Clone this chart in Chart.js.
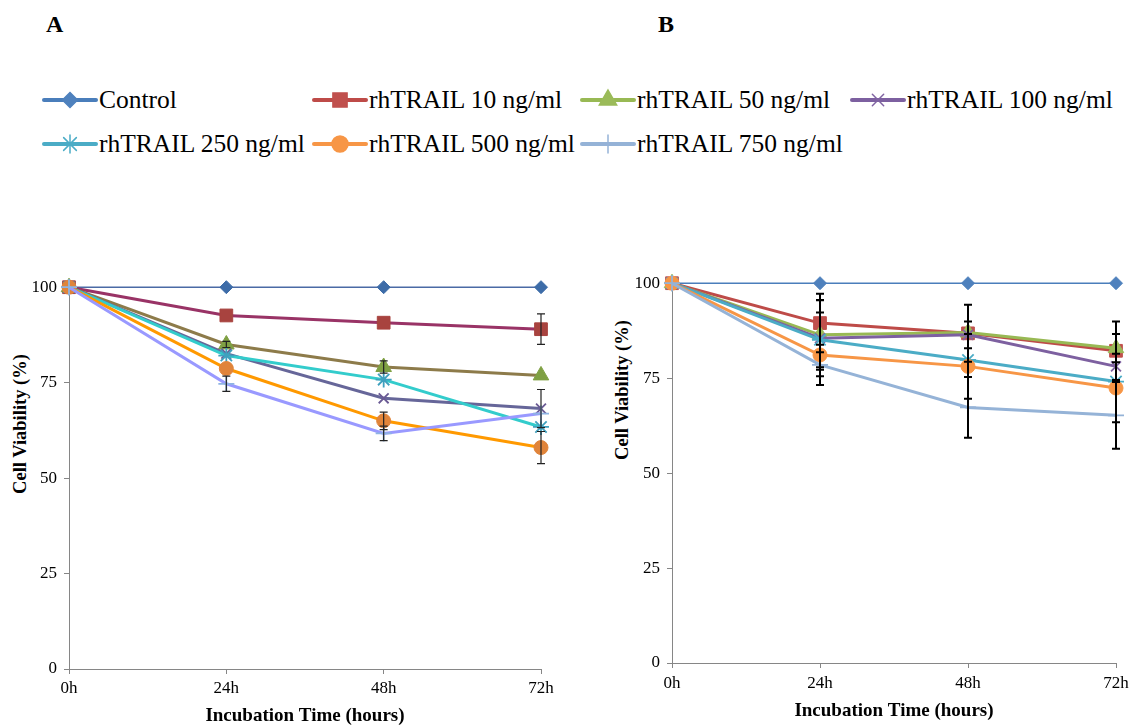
<!DOCTYPE html>
<html>
<head>
<meta charset="utf-8">
<script src="https://cdn.jsdelivr.net/npm/chart.js@4.4.1/dist/chart.umd.min.js"></script>
<style>
body { margin:0; background:#fff; width:1136px; height:727px; position:relative; overflow:hidden; font-family:'Times New Roman', Times, 'Liberation Serif', 'DejaVu Serif', serif; color:#000; }
.letter { position:absolute; font-weight:bold; font-size:24px; }
.leg { position:absolute; display:flex; align-items:center; font-size:25.5px; white-space:nowrap; height:30px; }
.leg canvas { margin-right:1px; }
.ytitle { position:absolute; font-weight:bold; font-size:18.5px; white-space:nowrap; transform:translate(-50%,-50%) rotate(-90deg); }
#wrapA { position:absolute; left:0; top:270px; width:575px; height:457px; }
#wrapB { position:absolute; left:600px; top:266px; width:536px; height:461px; }
</style>
</head>
<body>
<div class="letter" style="left:46px;top:11px">A</div>
<div class="letter" style="left:658px;top:11px">B</div>
<div id="legend"></div>
<div class="ytitle" style="left:20px;top:424px">Cell Viability (%)</div>
<div class="ytitle" style="left:622px;top:390px">Cell Viability (%)</div>
<div id="wrapA"><canvas id="chartA"></canvas></div>
<div id="wrapB"><canvas id="chartB"></canvas></div>
<script>
const serif = "'Times New Roman', Times, 'Liberation Serif', 'DejaVu Serif', serif";

// categories / ticks
const times = ['0h', '24h', '48h', '72h'];
const names = ['Control', 'rhTRAIL 10 ng/ml', 'rhTRAIL 50 ng/ml', 'rhTRAIL 100 ng/ml',
               'rhTRAIL 250 ng/ml', 'rhTRAIL 500 ng/ml', 'rhTRAIL 750 ng/ml'];

// panel A values (%)
const ctrlA = [100, 100, 100, 100];
const t10A  = [100, 92.6, 90.7, 89.0];
const t50A  = [100, 85.0, 79.1, 76.9];
const t100A = [100, 82.6, 70.9, 68.2];
const t250A = [100, 82.1, 75.8, 63.4];
const t500A = [100, 78.7, 65.0, 58.0];
const t750A = [100, 74.7, 61.7, 66.9];
// panel A error bars
const e10A  = [0, 0, 0, 4.0];
const e50A  = [0, 0.8, 1.6, 0];
const e100A = [0, 0, 0, 5.0];
const e250A = [0, 0, 0, 0];
const e500A = [0, 0, 2.3, 4.2];
const e750A = [0, 2.0, 1.9, 0];

// panel B values (%)
const ctrlB = [100, 100, 100, 100];
const t10B  = [100, 89.5, 86.8, 82.2];
const t50B  = [100, 86.4, 87.0, 82.9];
const t100B = [100, 85.5, 86.4, 78.1];
const t250B = [100, 85.1, 79.8, 74.1];
const t500B = [100, 81.1, 78.1, 72.4];
const t750B = [100, 78.5, 67.3, 65.2];
// panel B error bars
const e10B  = [0, 7.7, 7.5, 7.7];
const e50B  = [0, 9.2, 0, 3.7];
const e100B = [0, 10.0, 3.5, 0];
const e250B = [0, 7.2, 0, 0];
const e500B = [0, 0, 8.5, 9.0];
const e750B = [0, 5.3, 8.0, 8.8];

const styles  = ['rectRot', 'rect', 'triangle', 'crossRot', 'star', 'circle', 'cross'];
const radii   = [6.5, 9, 9, 7, 8, 7, 8];

// line / marker colours
const lineA   = ['#4A6AA5', '#993366', '#8D7B4A', '#666699', '#33CCCC', '#FF9900', '#9999FF'];
const markA   = ['#3D6CA8', '#A8433F', '#7FA043', '#6A5A94', '#3FA0BE', '#E0843A', '#8EB4E3'];
const lineB   = ['#4A7EBB', '#BE4B48', '#98B954', '#7D60A0', '#4BACC6', '#F79646', '#95B3D7'];
const markB   = ['#4F81BD', '#C0504D', '#9BBB59', '#8064A2', '#4BACC6', '#F79646', '#95B3D7'];

const errorBars = {
    id: 'errorBars',
    afterDatasetsDraw(chart, args, opts) {
        const ctx = chart.ctx;
        const y = chart.scales.y;
        ctx.save();
        ctx.strokeStyle = opts.color || '#111';
        ctx.lineWidth = opts.width || 1.2;
        chart.data.datasets.forEach((ds, i) => {
            if (!ds.errors) return;
            const meta = chart.getDatasetMeta(i);
            meta.data.forEach((pt, j) => {
                const e = ds.errors[j];
                if (!e) return;
                const top = y.getPixelForValue(ds.data[j] + e);
                const bot = y.getPixelForValue(ds.data[j] - e);
                ctx.beginPath();
                ctx.moveTo(pt.x, top); ctx.lineTo(pt.x, bot);
                ctx.moveTo(pt.x - 4, top); ctx.lineTo(pt.x + 4, top);
                ctx.moveTo(pt.x - 4, bot); ctx.lineTo(pt.x + 4, bot);
                ctx.stroke();
            });
        });
        ctx.restore();
    }
};

function buildSets(values, errs, lines, marks) {
    return values.map((v, i) => ({
        label: names[i],
        data: v,
        errors: errs[i],
        borderColor: lines[i],
        borderWidth: i === 0 ? 1.5 : 3,
        backgroundColor: marks[i],
        pointStyle: styles[i],
        pointRadius: radii[i],
        pointBackgroundColor: marks[i],
        pointBorderColor: marks[i],
        pointBorderWidth: (styles[i] === 'cross' || styles[i] === 'crossRot' || styles[i] === 'star') ? 1.8 : 1,
        tension: 0,
        clip: false,
        order: 10 - i
    }));
}

function CreaChart(id, sets, yWidth, xHeight, pad, tickPadY, tickPadX, titlePad, errStyle) {
    return new Chart(document.getElementById(id), {
        type: 'line',
        data: { labels: times, datasets: sets },
        options: {
            responsive: true,
            maintainAspectRatio: false,
            animation: false,
            layout: { padding: pad },
            plugins: {
                legend: { display: false },
                tooltip: { enabled: false },
                errorBars: errStyle
            },
            scales: {
                x: {
                    offset: false,
                    border: { color: '#868686', width: 1 },
                    grid: { drawOnChartArea: false, drawTicks: true, tickLength: 5, color: '#868686' },
                    ticks: { color: '#000', padding: tickPadX, maxRotation: 0,
                             font: { family: serif, size: 17 } },
                    title: { display: true, text: 'Incubation Time (hours)', color: '#000',
                             padding: { top: 0, bottom: titlePad },
                             font: { family: serif, size: 19, weight: 'bold' } },
                    afterFit: (s) => { s.height = xHeight; }
                },
                y: {
                    min: 0,
                    max: 100,
                    border: { color: '#868686', width: 1 },
                    grid: { drawOnChartArea: false, drawTicks: true, tickLength: 5, color: '#868686' },
                    ticks: { stepSize: 25, color: '#000', padding: tickPadY,
                             font: { family: serif, size: 17 } },
                    afterFit: (s) => { s.width = yWidth; }
                }
            }
        },
        plugins: [errorBars]
    });
}

CreaChart('chartA',
    buildSets([ctrlA, t10A, t50A, t100A, t250A, t500A, t750A],
              [null, e10A, e50A, e100A, e250A, e500A, e750A], lineA, markA),
    69, 58, { left: 0, top: 17, right: 34, bottom: 0 }, 7, 4, 0, { color: '#222', width: 1.2 });

CreaChart('chartB',
    buildSets([ctrlB, t10B, t50B, t100B, t250B, t500B, t750B],
              [null, e10B, e50B, e100B, e250B, e500B, e750B], lineB, markB),
    72, 64, { left: 0, top: 17, right: 20, bottom: 0 }, 7, 5, 5, { color: '#000', width: 2 });

// shared legend
const legPos = [[42, 100], [312, 100], [580, 100], [850, 100], [42, 144], [312, 144], [580, 144]];
const legend = document.getElementById('legend');
names.forEach((n, i) => {
    const item = document.createElement('div');
    item.className = 'leg';
    item.style.left = legPos[i][0] + 'px';
    item.style.top = (legPos[i][1] - 15) + 'px';
    const c = document.createElement('canvas');
    c.width = 56; c.height = 30;
    const ctx = c.getContext('2d');
    ctx.strokeStyle = lineB[i];
    ctx.lineWidth = 4;
    ctx.lineCap = 'round';
    ctx.beginPath(); ctx.moveTo(2, 15); ctx.lineTo(54, 15); ctx.stroke();
    ctx.fillStyle = markB[i];
    ctx.strokeStyle = markB[i];
    ctx.lineWidth = 1.5;
    if (Chart.helpers && Chart.helpers.drawPoint) {
        Chart.helpers.drawPoint(ctx, { pointStyle: styles[i], radius: radii[i] + 1, rotation: 0, borderWidth: 1.5 }, 28, 15);
    }
    const t = document.createElement('span');
    t.textContent = n;
    item.appendChild(c);
    item.appendChild(t);
    legend.appendChild(item);
});
</script>
</body>
</html>
